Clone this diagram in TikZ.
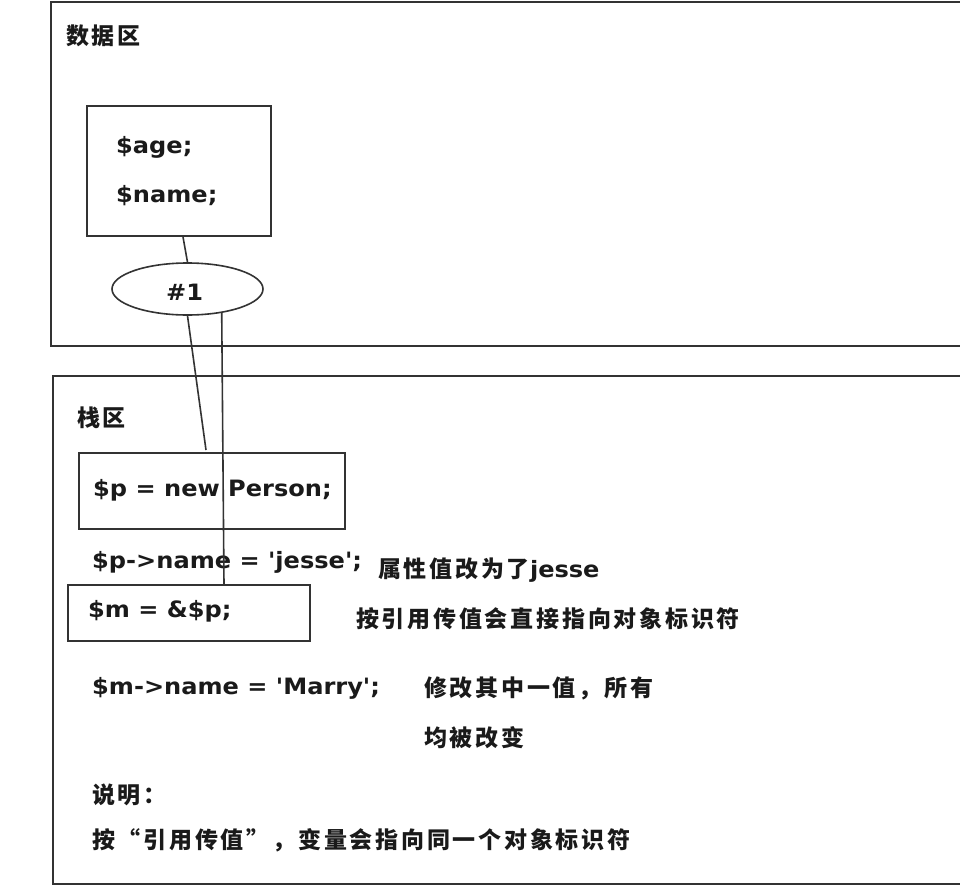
\documentclass[tikz,border=0pt]{standalone}
\usepackage{fontspec}
\setmainfont{Noto Sans CJK SC}[Ligatures=TeXOff, LetterSpace=12]
\newfontfamily\lat{DejaVu Sans}[Ligatures=TeXOff, FakeStretch=1.07]
\usetikzlibrary{shapes.geometric}
\definecolor{ink}{HTML}{333333}
\definecolor{txt}{HTML}{1A1A1A}
\tikzset{
  frame/.style={draw=ink, line width=2pt},
  box/.style={draw=ink, line width=1.8pt, minimum width=#1, inner sep=0pt},
  lbl/.style={anchor=west, inner sep=0pt, text=txt, font=\fontsize{23}{26}\selectfont\bfseries},
  code/.style={lbl, font=\fontsize{22.5}{26}\selectfont\lat\bfseries},
  link/.style={draw=ink, line width=1.6pt},
}
\begin{document}
\begin{tikzpicture}[x=1pt,y=-1pt]
\useasboundingbox (0,0) rectangle (960,886);
\fill[white] (0,0) rectangle (960,886);
% region frames (open to the right)
\draw[frame] (966,2) -- (51,2) -- (51,346) -- (966,346);
\draw[frame] (966,376) -- (53,376) -- (53,884) -- (966,884);
% boxes
\node[box=184pt, minimum height=130pt] (obj) at (179,171) {};
\node[draw=ink, line width=1.6pt, ellipse, minimum width=151pt, minimum height=52pt, inner sep=0pt] (e1) at (187.5,289) {};
\node[box=266pt, minimum height=76pt] (pbox) at (212,491) {};
\node[box=242pt, minimum height=56pt] (mbox) at (189,613) {};
% labels
\node[lbl] (t1) at (66,36) {数据区};
\node[code] (t2) at (116,147) {\$age;};
\node[code] (t3) at (116,196) {\$name;};
\node[code] (t4) at (166,292) {\#1};
\node[lbl] (t5) at (77,418) {栈区};
\node[code] (t6) at (93,490) {\$p = new Person;};
\node[code] (t7) at (92,562) {\$p->name = 'jesse';};
\node[lbl] (t8) at (378,570) {属性值改为了{\fontsize{22.5}{26}\selectfont\lat jesse}};
\node[code] (t9) at (88,611) {\$m = \&\$p;};
\node[lbl] (t10) at (356,619) {按引用传值会直接指向对象标识符};
\node[code] (t11) at (92,688) {\$m->name = 'Marry';};
\node[lbl] (t12) at (424,688) {修改其中一值，所有};
\node[lbl] (t13) at (424,738) {均被改变};
\node[lbl] (t14) at (92,795) {说明：};
\node[lbl] (t15) at (92,840) {按“引用传值”，变量会指向同一个对象标识符};
% connectors
\coordinate (c1) at ([xshift=4pt]obj.south);
\coordinate (c2) at (206,450);
\coordinate (c3) at (224,585);
\draw[link] (c1) -- (e1.north);
\draw[link] (e1.south) -- (c2);
\draw[link] (e1.-35) -- (c3);
\end{tikzpicture}
\end{document}
